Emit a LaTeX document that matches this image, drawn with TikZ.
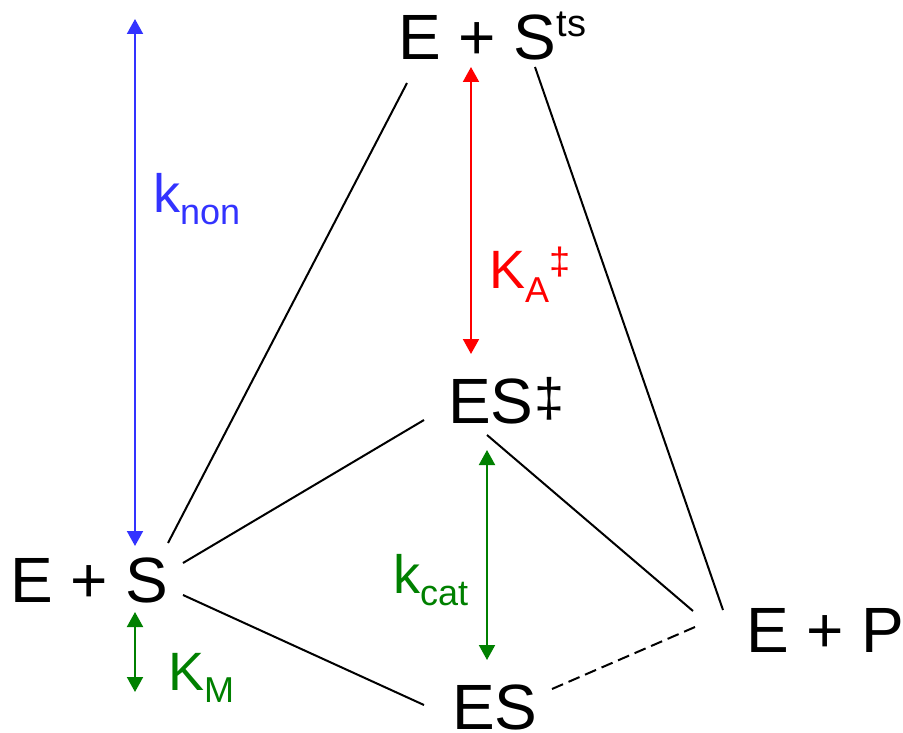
\documentclass[tikz,border=0pt]{standalone}
\usepackage{fontspec}
\setmainfont{Liberation Sans}
\usetikzlibrary{arrows.meta}
\definecolor{myblue}{RGB}{51,51,255}
\definecolor{myred}{RGB}{255,0,0}
\definecolor{mygreen}{RGB}{0,128,0}
\newcommand\mainsz{\fontsize{64}{64}\selectfont}
\newcommand\labsz{\fontsize{54}{54}\selectfont}
\newcommand\subsz{\fontsize{36}{36}\selectfont}
\begin{document}
\begin{tikzpicture}[x=1pt,y=-1pt,
  txt/.style={inner sep=0pt, anchor=base west},
  conn/.style={line width=2pt, line cap=butt},
  dbl/.style={line width=2pt, {Triangle[width=16pt,length=15pt]}-{Triangle[width=16pt,length=15pt]}}]
\useasboundingbox (0,0) rectangle (903,733);
% main states
\node[txt] (es0) at (10,602) {\mainsz E + S};
\node[txt] (ets) at (398,60) {\mainsz E + S\raisebox{23pt}{\fontsize{38}{38}\selectfont ts}};
\node[txt] (esd) at (448,423) {\mainsz ES\hspace{1pt}\raisebox{7pt}{\fontsize{54}{54}\selectfont ‡}};
\node[txt] (es) at (452,729) {\mainsz ES};
\node[txt] (ep) at (746,652) {\mainsz E + P};
% labels
\node[txt, text=myblue] (knon) at (153,213) {\labsz k\raisebox{-12pt}{\subsz non}};
\node[txt, text=myred] (ka) at (489,288) {\labsz K\raisebox{-14pt}{\subsz A}\raisebox{14pt}{\fontsize{38}{38}\selectfont ‡}};
\node[txt, text=mygreen] (kcat) at (393,593) {\labsz k\raisebox{-12pt}{\subsz cat}};
\node[txt, text=mygreen] (km) at (168,690) {\labsz K\raisebox{-12pt}{\subsz M}};
% connector end points
\coordinate (a1) at (168,543); \coordinate (a2) at (407,83);
\coordinate (b1) at (183,563); \coordinate (b2) at (424,420);
\coordinate (c1) at (183,595); \coordinate (c2) at (424,705);
\coordinate (d1) at (487,435); \coordinate (d2) at (693,611);
\coordinate (e1) at (535,67);  \coordinate (e2) at (723,610);
\coordinate (f1) at (552,689); \coordinate (f2) at (695,627);
\draw[conn] (a1) -- (a2);
\draw[conn] (b1) -- (b2);
\draw[conn] (c1) -- (c2);
\draw[conn] (d1) -- (d2);
\draw[conn] (e1) -- (e2);
\draw[conn, dash pattern=on 12pt off 6pt] (f1) -- (f2);
% double arrows
\coordinate (bt) at (135,19);  \coordinate (bb) at (135,546);
\coordinate (rt) at (471,67);  \coordinate (rb) at (471,354);
\coordinate (gt) at (487,450); \coordinate (gb) at (487,660);
\coordinate (mt) at (135,612); \coordinate (mb) at (135,692);
\draw[dbl, myblue] (bt) -- (bb);
\draw[dbl, myred] (rt) -- (rb);
\draw[dbl, mygreen] (gt) -- (gb);
\draw[dbl, mygreen] (mt) -- (mb);
\end{tikzpicture}
\end{document}
